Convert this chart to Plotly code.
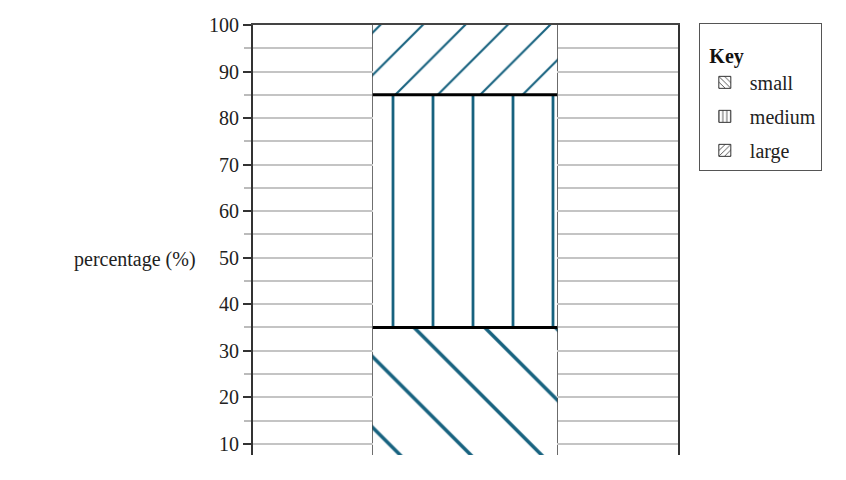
import plotly.graph_objects as go

# ---- data ----
categories = ["small", "medium", "large"]
percentages = [35, 50, 15]
shapes_hatch = ["\\", "|", "/"]
y_tick_vals = [10, 20, 30, 40, 50, 60, 70, 80, 90, 100]
y_tick_text = ["10", "20", "30", "40", "50", "60", "70", "80", "90", "100"]

# ---- style / layout constants ----
BAR_X = 0.4988
BAR_W = 0.434
HATCH = "#17627f"
FONT = "Liberation Serif"
hatch_size = {"\\": 50, "|": 40, "/": 30}

fig = go.Figure()

bases = []
acc = 0
for v in percentages:
    bases.append(acc)
    acc += v

for name, val, base, sh in zip(categories, percentages, bases, shapes_hatch):
    fig.add_trace(go.Bar(
        x=[BAR_X], y=[val], base=[base], width=[BAR_W], name=name,
        marker=dict(color="white", line=dict(width=0),
                    pattern=dict(shape=sh, fgcolor=HATCH, bgcolor="white",
                                 size=hatch_size[sh], solidity=0.07, fillmode="replace")),
        showlegend=False, hoverinfo="skip",
    ))
    # legend-only swatches drawn in black
    fig.add_trace(go.Bar(
        x=[None], y=[None], name=name, legendgroup=name,
        marker=dict(color="white", line=dict(width=1, color="#333"),
                    pattern=dict(shape=sh, fgcolor="#333", bgcolor="white",
                                 size=5, solidity=0.2, fillmode="replace")),
        showlegend=True,
    ))

# black boundary lines between segments (from cumulative totals)
bounds = [b for b in bases[1:]]
for b in bounds:
    fig.add_trace(go.Scatter(
        x=[BAR_X - BAR_W / 2, BAR_X + BAR_W / 2], y=[b, b], mode="lines",
        line=dict(color="black", width=3), showlegend=False, hoverinfo="skip",
    ))

fig.update_layout(
    width=846, height=480,
    margin=dict(l=245, r=176, t=17, b=33, autoexpand=False),
    paper_bgcolor="white", plot_bgcolor="white",
    barmode="overlay",
    font=dict(family=FONT, size=20, color="#222"),
    legend=dict(
        title=dict(text="&nbsp;<span style='font-size:20px'><b>Key</b></span>",
                   font=dict(family=FONT, size=30, color="#111")),
        x=1.049, y=1.005, xanchor="left", yanchor="top",
        bordercolor="#555", borderwidth=1, bgcolor="white",
        traceorder="grouped", font=dict(family=FONT, size=20, color="#222"),
        tracegroupgap=5, itemwidth=40, entrywidth=125,
    ),
    xaxis=dict(
        range=[0, 1], side="top", showline=True, linecolor="#444", linewidth=1.5,
        tickvals=[BAR_X - BAR_W / 2, BAR_X + BAR_W / 2], ticktext=["", ""],
        ticks="", showgrid=True, gridcolor="#444", gridwidth=1, zeroline=False,
        automargin=False,
    ),
    yaxis=dict(
        range=[7.6, 100], tickvals=y_tick_vals, ticktext=y_tick_text,
        ticks="outside", ticklen=8, tickwidth=2, tickcolor="#333",
        showline=True, linecolor="#333", linewidth=2, mirror=True,
        showgrid=True, gridcolor="#c4c4c4", gridwidth=1.5, zeroline=False,
        minor=dict(dtick=5, ticks="outside", ticklen=7, tickcolor="#bbb",
                   showgrid=True, gridcolor="#c4c4c4", gridwidth=1.5),
        tickfont=dict(family=FONT, size=20, color="#222"),
        automargin=False,
    ),
    annotations=[dict(
        text="percentage (%)", xref="paper", yref="paper", x=-0.13, y=0.455,
        xanchor="right", yanchor="middle", showarrow=False,
        font=dict(family=FONT, size=20, color="#222"),
    )],
)

fig.write_html("out.html")
